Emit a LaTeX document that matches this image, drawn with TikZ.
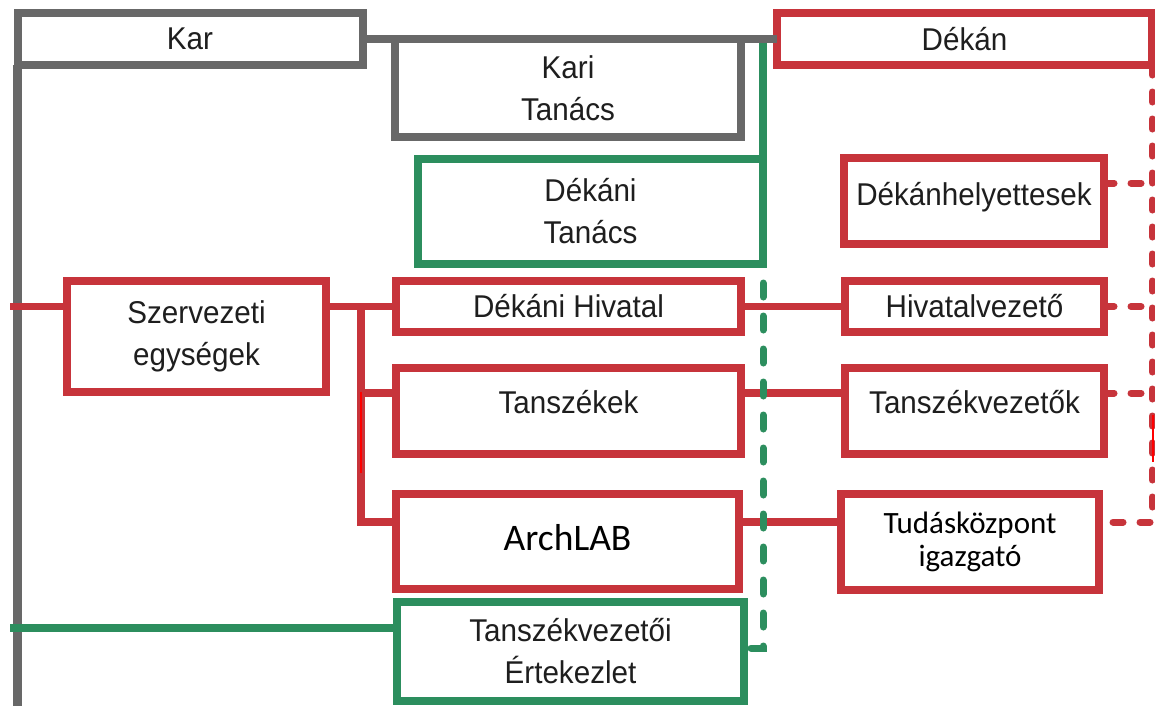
\documentclass[tikz,border=0pt]{standalone}
\usepackage{fontspec}
\setmainfont{Liberation Sans}[FakeStretch=0.94]
\newfontfamily\calib{Carlito}
\definecolor{bred}{RGB}{199,52,59}
\definecolor{bgreen}{RGB}{44,142,94}
\definecolor{bgray}{RGB}{104,104,104}
\definecolor{txt}{RGB}{30,30,30}
\tikzset{
  box/.style={draw, line width=8pt, inner sep=0pt, outer sep=0pt, fill=white,
    text=txt, align=center, font=\fontsize{31.5}{42}\selectfont},
  redbox/.style={box, draw=bred},
  greenbox/.style={box, draw=bgreen},
  graybox/.style={box, draw=bgray},
  calibtext/.style={text=black, font=\calib\fontsize{#1}{33}\selectfont},
  conn/.style={line width=7.5pt},
  redline/.style={conn, draw=bred},
  greenline/.style={conn, draw=bgreen},
  grayline/.style={conn, draw=bgray},
  reddash/.style={line width=7pt, draw=bred, line cap=round, dash pattern=on 10pt off 17pt},
  greendash/.style={line width=7pt, draw=bgreen, line cap=round, dash pattern=on 14pt off 19pt},
  artifact/.style={line width=2.5pt, draw={rgb,255:red,255;green,0;blue,0}}
}
\begin{document}
\begin{tikzpicture}[x=1pt, y=-1pt]
\useasboundingbox (0,0) rectangle (1155,705);
\fill[white] (0,0) rectangle (1155,705);

% boxes
\node[graybox, minimum width=345pt, minimum height=52pt] (kar) at (190,39) {Kar};
\node[graybox, minimum width=346pt, minimum height=98pt] (kari) at (568,88) {Kari\\Tanács};
\node[redbox, minimum width=375pt, minimum height=52pt] (dekan) at (964.5,39) {Dékán};
\node[greenbox, minimum width=345pt, minimum height=105pt] (dtan) at (590.5,211.5) {Dékáni\\Tanács};
\node[redbox, minimum width=260pt, minimum height=86pt, text height=23pt, text depth=15pt] (dhely) at (974,201) {Dékánhelyettesek};
\node[redbox, minimum width=259pt, minimum height=111pt] (szerv) at (196.5,336.5) {Szervezeti\\egységek};
\node[redbox, minimum width=345pt, minimum height=51pt] (dhiv) at (568.5,306.5) {Dékáni Hivatal};
\node[redbox, minimum width=259pt, minimum height=51pt] (hiv) at (974.5,306.5) {Hivatalvezető};
\node[redbox, minimum width=345pt, minimum height=86pt, text height=23pt, text depth=19pt] (tansz) at (568.5,411) {Tanszékek};
\node[redbox, minimum width=259pt, minimum height=86pt, text height=23pt, text depth=19pt] (tanszv) at (974.5,411) {Tanszékvezetők};
\node[redbox, calibtext=37.5, minimum width=343pt, minimum height=95pt, text height=28pt, text depth=11pt] (archlab) at (567.5,541.5) {ArchLAB};
\node[redbox, calibtext=31, minimum width=258pt, minimum height=96pt] (tudas) at (970,542) {Tudásközpont\\igazgató};
\node[greenbox, minimum width=347pt, minimum height=99pt] (tve) at (570.5,651.5) {Tanszékvezetői\\Értekezlet};

% helper coordinates
\coordinate (gbot) at (17.5,712);
\coordinate (lred) at (10,306.5);
\coordinate (lgreen) at (10,628);
\coordinate (bus) at (361,306.5);
\coordinate (r1) at (0,183);
\coordinate (r2) at (0,393);
\coordinate (r3) at (0,522);
\coordinate (r4) at (0,648);
\coordinate (gd) at (763,283);

% gray / green solid connectors
\draw[greenline] (dtan.south east) -- (dtan.south east |- kar.east);
\draw[grayline] (kar.east) -- (dekan.west);
\draw[line width=9pt, draw=bgray] (kar.south west) -- (kar.south west |- gbot);
\draw[greenline] (lgreen) -- (lgreen -| tve.west);

% red solid connectors
\draw[redline] (lred) -- (lred -| szerv.west);
\draw[redline] (szerv.east |- dhiv.west) -- (dhiv.west);
\draw[redline] (bus) |- (archlab.west |- r3);
\draw[redline] (bus |- r2) -- (tansz.west |- r2);
\draw[redline] (dhiv.east) -- (hiv.west);
\draw[redline] (tansz.east |- r2) -- (tanszv.west |- r2);
\draw[redline] (archlab.east |- r3) -- (tudas.west |- r3);

% red dashed connectors
\draw[reddash] (dekan.south east) -- (dekan.south east |- r3) -- (tudas.east |- r3);
\draw[reddash] (dhely.east |- r1) -- (dekan.south east |- r1);
\draw[reddash] (hiv.east) -- (dekan.south east |- hiv.east);
\draw[reddash] (tanszv.east |- r2) -- (dekan.south east |- r2);

% green dashed connector
\draw[greendash] (gd) -- (gd |- r4) -- (tve.east |- r4);

% bright red retouch marks
\draw[artifact] (361,392) -- (361,473);
\draw[artifact] (1153,415) -- (1153,462);
\end{tikzpicture}
\end{document}
